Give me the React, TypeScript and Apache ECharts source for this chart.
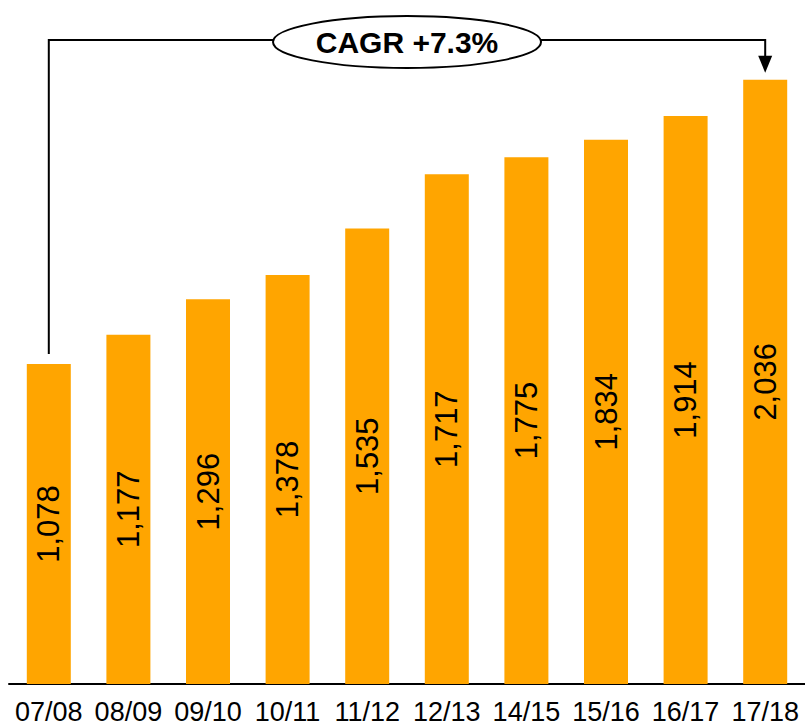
import React, { useEffect, useRef } from "react";
import * as echarts from "echarts";

const categories = ["07/08", "08/09", "09/10", "10/11", "11/12", "12/13", "14/15", "15/16", "16/17", "17/18"];
const values = [1078, 1177, 1296, 1378, 1535, 1717, 1775, 1834, 1914, 2036];
const cagrLabel = "CAGR +7.3%";

export default function App() {
  const ref = useRef<HTMLDivElement>(null);
  useEffect(() => {
    document.body.style.margin = "0";
    const chart = echarts.init(ref.current!, null, { renderer: "svg" });
    chart.setOption({
      animation: false,
      grid: { left: 9, right: -4, top: 31, bottom: 42, containLabel: false },
      xAxis: {
        type: "category",
        data: categories,
        axisLine: { lineStyle: { color: "#000", width: 2 } },
        axisTick: { show: false },
        axisLabel: { color: "#000", fontSize: 27, fontFamily: "Liberation Sans", margin: 14, interval: 0 },
      },
      yAxis: { type: "value", min: 0, max: 2200, show: false, splitLine: { show: false } },
      series: [
        {
          type: "bar",
          data: values,
          barWidth: 44,
          itemStyle: { color: "#FFA500" },
          label: {
            show: true,
            position: "inside",
            rotate: 90,
            formatter: (p: any) => Number(p.value).toLocaleString("en-US"),
            fontSize: 31,
            color: "#000",
            fontFamily: "Liberation Sans",
          },
        },
      ],
    });
    const last = values.length - 1;
    const p0 = chart.convertToPixel({ seriesIndex: 0 }, [0, values[0]]) as number[];
    const p9 = chart.convertToPixel({ seriesIndex: 0 }, [last, values[last]]) as number[];
    const lineY = 40;
    const cx = (p0[0] + p9[0]) / 2;
    chart.setOption({
      graphic: [
        {
          type: "polyline",
          shape: { points: [[p0[0], p0[1] - 10], [p0[0], lineY], [p9[0], lineY], [p9[0], p9[1] - 23]] },
          style: { stroke: "#000", lineWidth: 2, fill: null },
        },
        {
          type: "polygon",
          shape: { points: [[p9[0] - 7, p9[1] - 24], [p9[0] + 7, p9[1] - 24], [p9[0], p9[1] - 7]] },
          style: { fill: "#000" },
        },
        {
          type: "ellipse",
          shape: { cx, cy: lineY + 2, rx: 134, ry: 26 },
          style: { fill: "#fff", stroke: "#000", lineWidth: 2 },
        },
        {
          type: "text",
          x: cx,
          y: lineY + 2,
          style: {
            text: cagrLabel,
            fontSize: 30,
            fontWeight: "bold",
            fontFamily: "Liberation Sans",
            fill: "#000",
            align: "center",
            verticalAlign: "middle",
          },
        },
      ],
    });
    return () => chart.dispose();
  }, []);
  return <div ref={ref} style={{ width: 805, height: 726 }} />;
}
